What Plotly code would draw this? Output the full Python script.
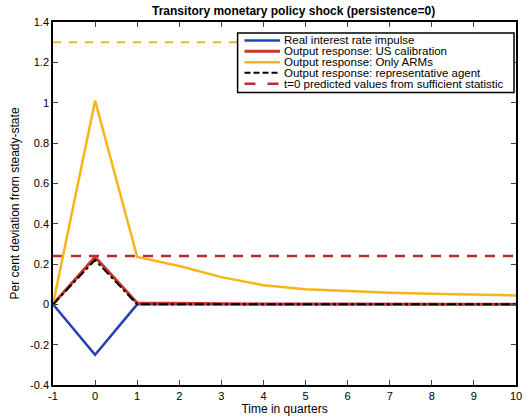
import plotly.graph_objects as go

t = list(range(-1, 11))
real_rate = [0, -0.25, 0, 0, 0, 0, 0, 0, 0, 0, 0, 0]
us_calib = [0, 0.235, 0.006, 0.004, 0.003, 0.002, 0.002, 0.001, 0.001, 0.001, 0.001, 0.001]
only_arms = [0, 1.01, 0.235, 0.19, 0.135, 0.095, 0.075, 0.065, 0.058, 0.052, 0.048, 0.044]
rep_agent = [0, 0.22, 0, 0, 0, 0, 0, 0, 0, 0, 0, 0]
pred_us = 0.24
pred_arms = 1.3

xticks = list(range(-1, 11))
xtext = [str(v) for v in xticks]
yticks = [-0.4, -0.2, 0, 0.2, 0.4, 0.6, 0.8, 1, 1.2, 1.4]
ytext = ["-0.4", "-0.2", "0", "0.2", "0.4", "0.6", "0.8", "1", "1.2", "1.4"]

legend_names = ["Real interest rate impulse",
                "Output response: US calibration",
                "Output response: Only ARMs",
                "Output response: representative agent",
                "t=0 predicted values from sufficient statistic"]

BLUE = "#2143b5"
RED = "#c8372d"
ORANGE = "#f7b51a"
DRED = "#b5302a"

styles = [dict(color=BLUE, width=2.5),
          dict(color=RED, width=3),
          dict(color=ORANGE, width=2.5),
          dict(color="black", width=2, dash="dashdot"),
          dict(color=DRED, width=2.5, dash="10px,8px")]
legend_dash = [None, None, None, "6px,3px", "11px,12px"]

fig = go.Figure()
fig.add_trace(go.Scatter(x=t, y=[pred_arms] * len(t), mode="lines",
                         line=dict(color=ORANGE, width=2, dash="8px,8px"), showlegend=False))
fig.add_trace(go.Scatter(x=t, y=[pred_us] * len(t), mode="lines",
                         line=styles[4], showlegend=False))
fig.add_trace(go.Scatter(x=t, y=real_rate, mode="lines", line=styles[0], showlegend=False))
fig.add_trace(go.Scatter(x=t, y=us_calib, mode="lines", line=styles[1], showlegend=False))
fig.add_trace(go.Scatter(x=t, y=only_arms, mode="lines", line=styles[2], showlegend=False))
fig.add_trace(go.Scatter(x=t, y=rep_agent, mode="lines", line=styles[3], showlegend=False))

# custom compact legend (MATLAB style)
L, R, T, B = 53, 522, 22, 387
def px(xp):
    return (xp - L) / (R - L)
def py(yp):
    return (B - yp) / (B - T)

shapes = [dict(type="rect", xref="paper", yref="paper", x0=px(240), x1=px(520),
               y0=py(93), y1=py(33), fillcolor="white",
               line=dict(color="black", width=1.5), layer="above")]
annotations = []
rows = [40.5, 51.5, 62.5, 73, 84]
for name, st, yy, dsh in zip(legend_names, styles, rows, legend_dash):
    ln = dict(color=st["color"], width=st["width"])
    if dsh:
        ln["dash"] = dsh
    shapes.append(dict(type="line", xref="paper", yref="paper",
                       x0=px(247), x1=px(283), y0=py(yy), y1=py(yy),
                       line=ln, layer="above"))
    annotations.append(dict(text=name, xref="paper", yref="paper", x=px(285), y=py(yy),
                            xanchor="left", yanchor="middle", showarrow=False,
                            font=dict(size=11.5, color="black")))

fig.update_layout(
    width=529, height=419,
    margin=dict(l=L, r=529 - R, t=T, b=419 - B),
    paper_bgcolor="white", plot_bgcolor="white",
    font=dict(family="Liberation Sans, Arial, sans-serif", size=11, color="black"),
    title=dict(text="<b>Transitory monetary policy shock (persistence=0)</b>",
               x=0.555, xanchor="center", y=0.985, yanchor="top", font=dict(size=12)),
    showlegend=False,
    shapes=shapes,
    annotations=annotations,
    xaxis=dict(range=[-1, 10], tickvals=xticks, ticktext=xtext, ticks="inside", ticklen=5,
               showline=True, linecolor="black", linewidth=1.5, mirror="ticks",
               showgrid=False, zeroline=False,
               title=dict(text="Time in quarters", standoff=2, font=dict(size=12))),
    yaxis=dict(range=[-0.4, 1.4], tickvals=yticks, ticktext=ytext, ticks="inside", ticklen=5,
               showline=True, linecolor="black", linewidth=1.5, mirror="ticks",
               showgrid=False, zeroline=False,
               title=dict(text="Per cent deviation from steady-state", standoff=8, font=dict(size=12))),
)

fig.write_html("out.html")
